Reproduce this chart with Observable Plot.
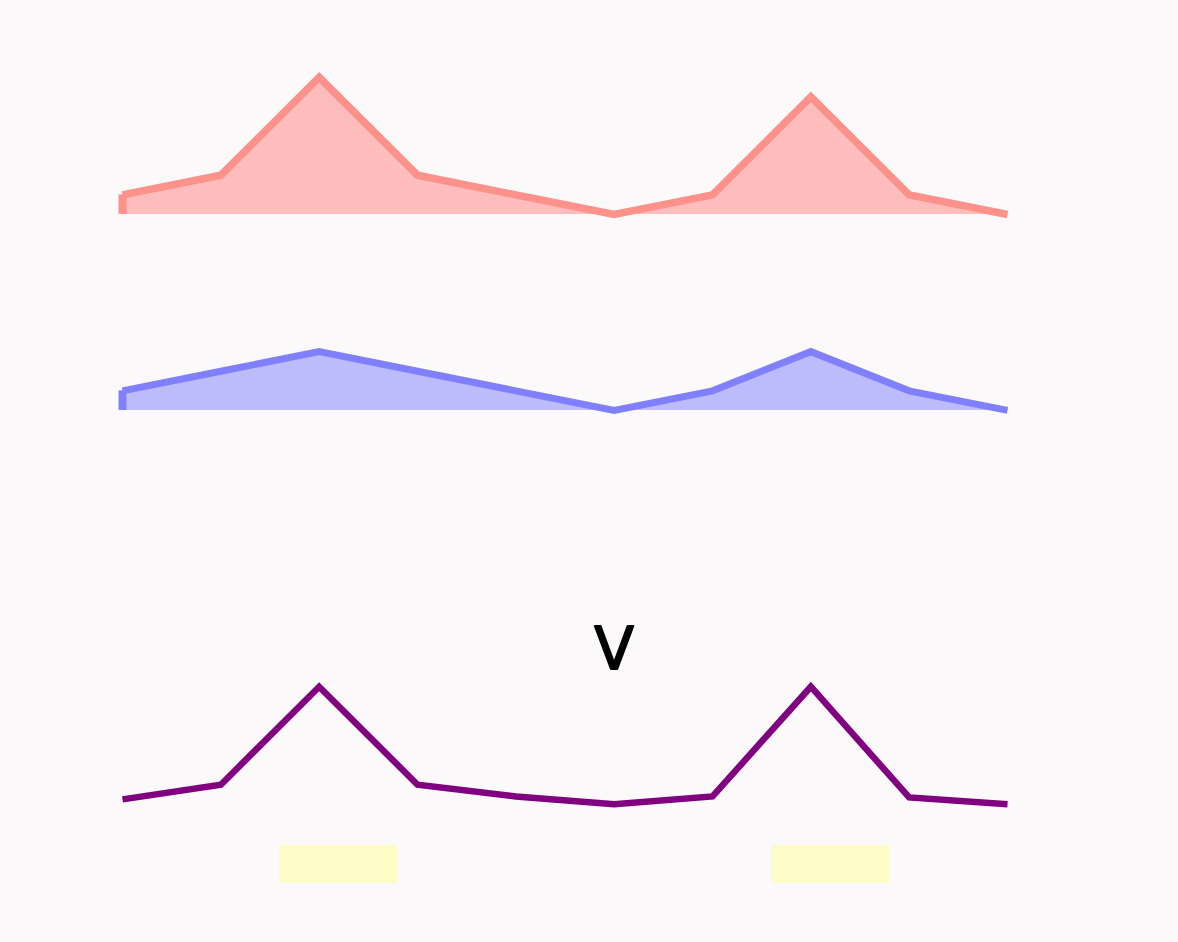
<!DOCTYPE html>
<html>
<head>
<meta charset="utf-8">
<script src="https://cdn.jsdelivr.net/npm/d3@7"></script>
<script src="https://cdn.jsdelivr.net/npm/@observablehq/plot@0.6"></script>
<style>
  html, body { margin: 0; padding: 0; background: #fcf9fa; }
  #chart svg { display: block; background: #fcf9fa; }
</style>
</head>
<body>
<div id="chart"></div>
<script>
// ---- data ----
const steps = [0, 1, 2, 3, 4, 5, 6, 7, 8, 9];
const redValues = [1, 2, 7, 2, 1, 0, 1, 6, 1, 0];
const blueValues = [1, 2, 3, 2, 1, 0, 1, 3, 1, 0];
const purpleValues = [0.25, 1, 6, 1, 0.4, 0, 0.4, 6, 0.35, 0];
const bandStarts = [1.6, 6.6];
const bandEnds = [2.8, 7.8];
const labelText = "V";

// ---- layout (lane baselines in y units) ----
const lanes = { red: 37, blue: 27, purple: 6.9 };
const bandLow = 2.87, bandHigh = 4.8;
const labelPos = { x: 5, y: 14.75 };

const red = steps.map((s, i) => ({ s, v: redValues[i] }));
const blue = steps.map((s, i) => ({ s, v: blueValues[i] }));
const purple = steps.map((s, i) => ({ s, v: purpleValues[i] }));
const bands = bandStarts.map((a, i) => ({ a, b: bandEnds[i] }));

const lineOpts = { strokeLinejoin: "miter", strokeLinecap: "butt", strokeMiterlimit: 10 };

const chart = Plot.plot({
  width: 1178,
  height: 942,
  marginLeft: 122,
  marginRight: 171,
  marginTop: 18,
  marginBottom: 3,
  style: { background: "#fcf9fa" },
  x: { domain: [0, 9], axis: null },
  y: { domain: [0, 47], axis: null },
  marks: [
    // red lane
    Plot.areaY(red, { x: "s", y1: () => lanes.red, y2: d => lanes.red + d.v, fill: "#ffbcbc" }),
    Plot.ruleX([red[0]], { x: "s", y1: () => lanes.red, y2: d => lanes.red + d.v, stroke: "#ff918b", strokeWidth: 8 }),
    Plot.lineY(red, { x: "s", y: d => lanes.red + d.v, stroke: "#ff918b", strokeWidth: 7.5, ...lineOpts }),
    // blue lane
    Plot.areaY(blue, { x: "s", y1: () => lanes.blue, y2: d => lanes.blue + d.v, fill: "#bcbcfd" }),
    Plot.ruleX([blue[0]], { x: "s", y1: () => lanes.blue, y2: d => lanes.blue + d.v, stroke: "#8080ff", strokeWidth: 8 }),
    Plot.lineY(blue, { x: "s", y: d => lanes.blue + d.v, stroke: "#8080ff", strokeWidth: 7, ...lineOpts }),
    // purple lane
    Plot.lineY(purple, { x: "s", y: d => lanes.purple + d.v, stroke: "#800080", strokeWidth: 6.5, ...lineOpts }),
    // yellow bands
    Plot.rect(bands, { x1: "a", x2: "b", y1: () => bandLow, y2: () => bandHigh, fill: "#fdfcc6" }),
    // label
    Plot.text([labelText], { x: () => labelPos.x, y: () => labelPos.y, text: d => d, fontSize: 58, fill: "black", stroke: "black", strokeWidth: 1.8, fontFamily: "DejaVu Sans, sans-serif" })
  ]
});
document.getElementById("chart").appendChild(chart);
</script>
</body>
</html>
